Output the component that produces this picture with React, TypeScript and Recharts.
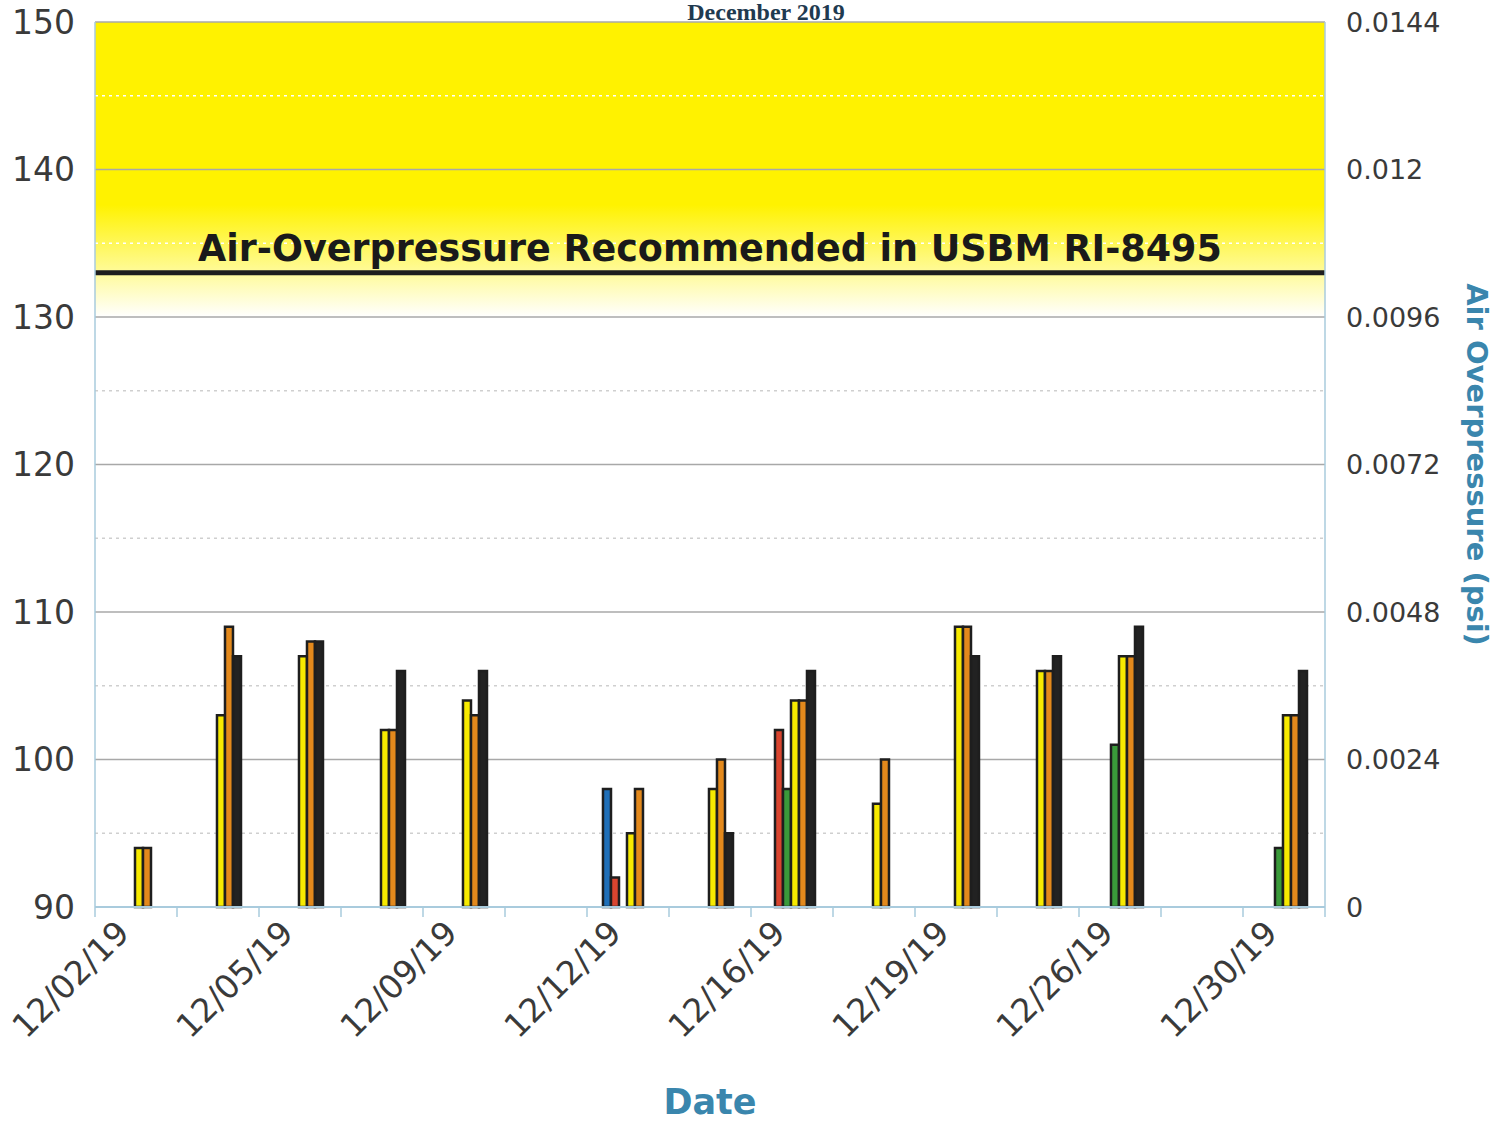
import { BarChart, Bar, XAxis, YAxis, ReferenceArea, ReferenceLine } from "recharts";

const dates = [
  "12/02/19", "12/03/19", "12/05/19", "12/06/19", "12/09/19", "12/10/19", "12/12/19", "12/13/19",
  "12/16/19", "12/17/19", "12/19/19", "12/20/19", "12/26/19", "12/27/19", "12/30/19",
];

// peak air overpressure (dB) per monitoring location, null = no event recorded
const blueLoc = [null, null, null, null, null, null, 98, null, null, null, null, null, null, null, null];
const redLoc = [null, null, null, null, null, null, 92, null, 102, null, null, null, null, null, null];
const greenLoc = [null, null, null, null, null, null, null, null, 98, null, null, null, 101, null, 94];
const yellowLoc = [94, 103, 107, 102, 104, null, 95, 98, 104, 97, 109, 106, 107, null, 103];
const orangeLoc = [94, 109, 108, 102, 103, null, 98, 100, 104, 100, 109, 106, 107, null, 103];
const blackLoc = [null, 107, 108, 106, 106, null, null, 95, 106, null, 107, 107, 109, null, 106];

const dbTicks = [90, 100, 110, 120, 130, 140, 150];
const minorTicks = [95, 105, 115, 125, 135, 145];
const psiTicks = [0, 0.0024, 0.0048, 0.0072, 0.0096, 0.012, 0.0144];
const usbmLimit = 133;

const data = dates.map((date, i) => ({
  date,
  blue: blueLoc[i],
  red: redLoc[i],
  green: greenLoc[i],
  yellow: yellowLoc[i],
  orange: orangeLoc[i],
  black: blackLoc[i],
}));

const axisBlue = "#a9cbdd";
const font = "DejaVu Sans";

function DateTick(props: any) {
  const { x, y, payload, index } = props;
  const half = payload.offset || 0;
  const left = x - half;
  const tx = x - 5;
  const ty = y + 18;
  return (
    <g>
      <line x1={left} y1={y - 10} x2={left} y2={y} stroke={axisBlue} strokeWidth={1.5} />
      {index === dates.length - 1 && (
        <line x1={x + half} y1={y - 10} x2={x + half} y2={y} stroke={axisBlue} strokeWidth={1.5} />
      )}
      {index % 2 === 0 && (
        <text
          x={tx}
          y={ty}
          textAnchor="end"
          transform={`rotate(-45 ${tx} ${ty})`}
          fontSize={33}
          fontFamily={font}
          fill="#3a3a3a"
        >
          {payload.value}
        </text>
      )}
    </g>
  );
}

function PsiTitle(props: any) {
  const { x, y, width, height } = props.viewBox;
  const cx = x + width - 20;
  const cy = y + height / 2;
  return (
    <text
      x={cx}
      y={cy}
      transform={`rotate(90 ${cx} ${cy})`}
      textAnchor="middle"
      dominantBaseline="central"
      fontSize={29}
      fontWeight="bold"
      fontFamily={font}
      fill="#3a86ad"
    >
      Air Overpressure (psi)
    </text>
  );
}

const barStroke = { stroke: "#1e1e1e", strokeWidth: 2.5 };

export default function App() {
  return (
    <div style={{ position: "absolute", left: 0, top: 0, width: 1497, height: 1122, background: "#fff" }}>
      <div
        style={{
          position: "absolute",
          left: 0,
          width: 1532,
          top: 0,
          textAlign: "center",
          fontFamily: "Liberation Serif",
          fontWeight: "bold",
          fontSize: 24,
          lineHeight: 1,
          color: "#1f3a50",
        }}
      >
        December 2019
      </div>
      <BarChart
        width={1497}
        height={1122}
        data={data}
        margin={{ top: 22, right: 0, bottom: 0, left: 0 }}
        barCategoryGap="19.5%"
        barGap={0}
      >
        <defs>
          <linearGradient id="band" x1="0" y1="0" x2="0" y2="1">
            <stop offset="0%" stopColor="#fff200" />
            <stop offset="62%" stopColor="#fff200" />
            <stop offset="80%" stopColor="#fff97a" />
            <stop offset="100%" stopColor="#ffffff" />
          </linearGradient>
        </defs>
        <XAxis
          dataKey="date"
          interval={0}
          height={215}
          tickLine={false}
          tickSize={10}
          tickMargin={0}
          axisLine={{ stroke: axisBlue, strokeWidth: 2 }}
          tick={<DateTick />}
          label={{
            value: "Date",
            position: "insideBottom",
            offset: 8,
            fontSize: 35,
            fontWeight: "bold",
            fontFamily: font,
            fill: "#3a86ad",
          }}
        />
        <YAxis
          domain={[90, 150]}
          ticks={dbTicks}
          width={95}
          tickLine={false}
          tickMargin={14}
          axisLine={{ stroke: axisBlue, strokeWidth: 1.5 }}
          tick={{ fontSize: 33, fontFamily: font, fill: "#3a3a3a" }}
        />
        <YAxis
          yAxisId="psi"
          orientation="right"
          type="number"
          domain={[0, 0.0144]}
          allowDataOverflow
          ticks={psiTicks}
          width={172}
          tickLine={false}
          tickMargin={15}
          axisLine={{ stroke: axisBlue, strokeWidth: 1.5 }}
          tick={{ fontSize: 27, fontFamily: font, fill: "#3a3a3a" }}
          label={<PsiTitle />}
        />
        <ReferenceArea y1={130} y2={150} fill="url(#band)" fillOpacity={1} stroke="none" zIndex={-200} />
        {minorTicks.map((v) => (
          <ReferenceLine
            key={"m" + v}
            y={v}
            stroke={v > 130 ? "#ffffff" : "#cfcfcf"}
            strokeWidth={1.5}
            strokeDasharray="3 4"
            zIndex={-150}
          />
        ))}
        {dbTicks.slice(1).map((v) => (
          <ReferenceLine key={"g" + v} y={v} stroke="#a8a8a8" strokeWidth={1.5} zIndex={-140} />
        ))}
        <ReferenceLine
          y={usbmLimit}
          stroke="#1e1e1e"
          strokeWidth={5}
          zIndex={-100}
          label={{
            value: "Air-Overpressure Recommended in USBM RI-8495",
            position: "top",
            offset: 12,
            fontSize: 36.5,
            fontWeight: "bold",
            fontFamily: font,
            fill: "#1a1a1a",
          }}
        />
        <Bar dataKey="blue" fill="#1f6fb8" {...barStroke} isAnimationActive={false} />
        <Bar dataKey="red" fill="#d9452f" {...barStroke} isAnimationActive={false} />
        <Bar dataKey="green" fill="#3a9a3a" {...barStroke} isAnimationActive={false} />
        <Bar dataKey="yellow" fill="#f7ea00" {...barStroke} isAnimationActive={false} />
        <Bar dataKey="orange" fill="#e3891c" {...barStroke} isAnimationActive={false} />
        <Bar dataKey="black" fill="#222222" {...barStroke} isAnimationActive={false} />
      </BarChart>
    </div>
  );
}
